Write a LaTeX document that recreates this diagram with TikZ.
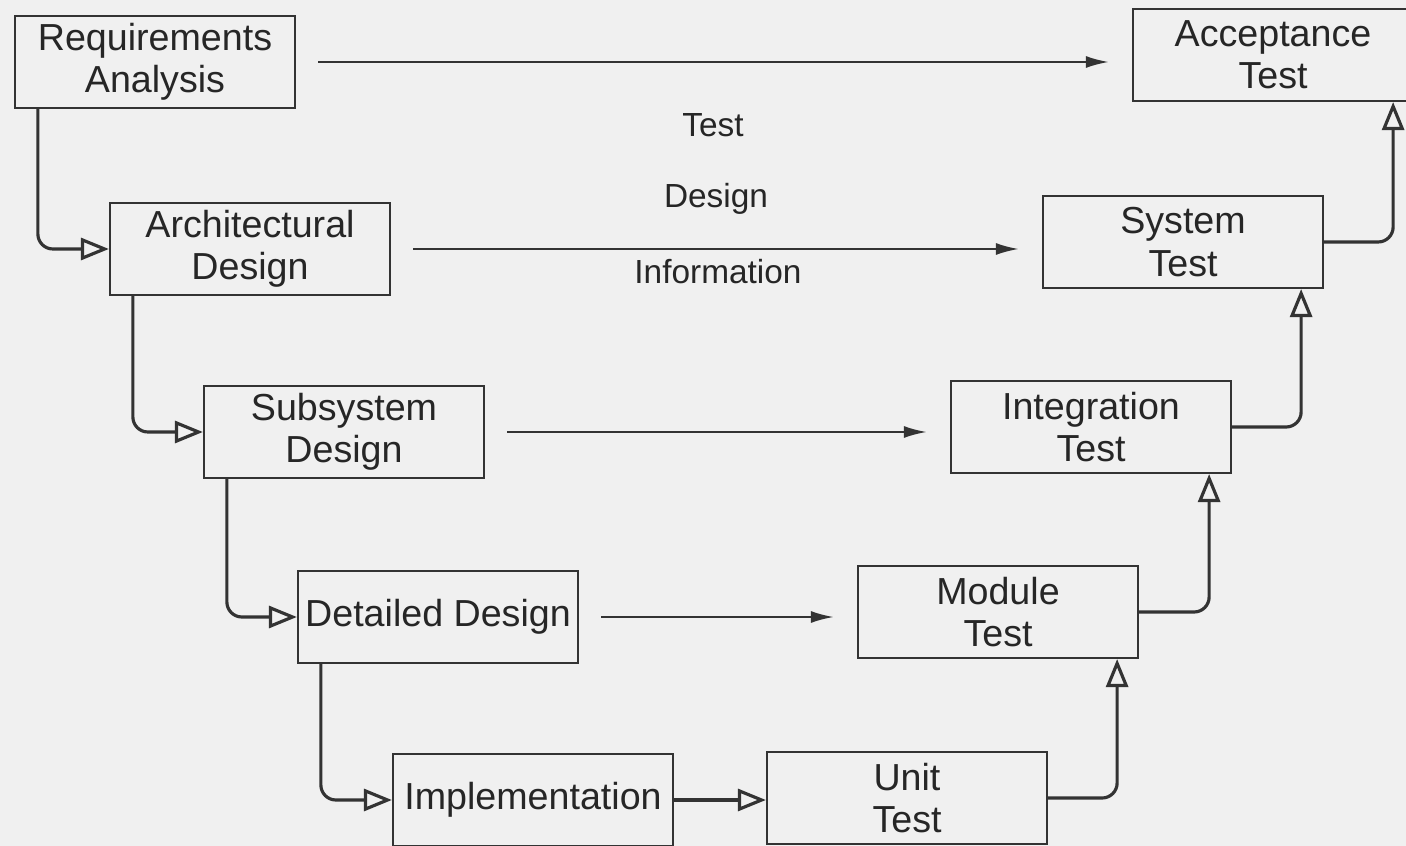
\documentclass[tikz,border=0pt]{standalone}
\usepackage{fontspec}
\setmainfont{Liberation Sans}
\usetikzlibrary{arrows.meta}

\begin{document}
\begin{tikzpicture}[x=0.01cm,y=-0.01cm,
    phase/.style={draw=black!80,line width=0.6pt,minimum width=2.8cm,minimum height=0.92cm,
      inner sep=0pt,align=center,text=black!85,font=\fontsize{10.7}{12}\selectfont},
    flow/.style={draw=black!80,line width=0.9pt,rounded corners=0.15cm,
      -{Triangle[open,length=2.8mm,width=2.2mm]}},
    info/.style={draw=black!80,line width=0.6pt,-{Latex[length=2.3mm,width=1.2mm]},
      shorten <=0.22cm,shorten >=0.23cm},
    lbl/.style={text=black!85,font=\fontsize{9.5}{11}\selectfont}]
  \fill[black!6] (0,0) rectangle (1406,846);
  \useasboundingbox (0,0) rectangle (1406,846);
  % left leg
  \node[phase] (req) at (155,62) {Requirements\\Analysis};
  \node[phase] (arch) at (250,249) {Architectural\\Design};
  \node[phase] (sub) at (344,432) {Subsystem\\Design};
  \node[phase] (det) at (438,617) {Detailed Design};
  \node[phase] (impl) at (533,800) {Implementation};
  % right leg
  \node[phase] (unit) at (907,798) {Unit\\Test};
  \node[phase] (mod) at (998,612) {Module\\Test};
  \node[phase] (integ) at (1091,427) {Integration\\Test};
  \node[phase] (sys) at (1183,242) {System\\Test};
  \node[phase] (acc) at (1273,55) {Acceptance\\Test};
  % labels
  \node[lbl] (ltest) at (713,125) {Test};
  \node[lbl] (ldesign) at (716,199) {Design};
  \node[lbl] (linfo) at (718,272) {Information};
  % down
  \draw[flow] ([xshift=0.24cm]req.south west) |- (arch.west);
  \draw[flow] ([xshift=0.24cm]arch.south west) |- (sub.west);
  \draw[flow] ([xshift=0.24cm]sub.south west) |- (det.west);
  \draw[flow] ([xshift=0.24cm]det.south west) |- (impl.west);
  \draw[flow] (impl.east) -- (impl.east -| unit.west);
  % up
  \draw[flow] (unit.east) -| ([xshift=-0.22cm]mod.south east);
  \draw[flow] (mod.east) -| ([xshift=-0.23cm]integ.south east);
  \draw[flow] (integ.east) -| ([xshift=-0.23cm]sys.south east);
  \draw[flow] (sys.east) -| ([xshift=-0.21cm]acc.south east);
  % test design information
  \draw[info] (req.east) -- (req.east -| acc.west);
  \draw[info] (arch.east) -- (arch.east -| sys.west);
  \draw[info] (sub.east) -- (sub.east -| integ.west);
  \draw[info] (det.east) -- (det.east -| mod.west);
\end{tikzpicture}
\end{document}
